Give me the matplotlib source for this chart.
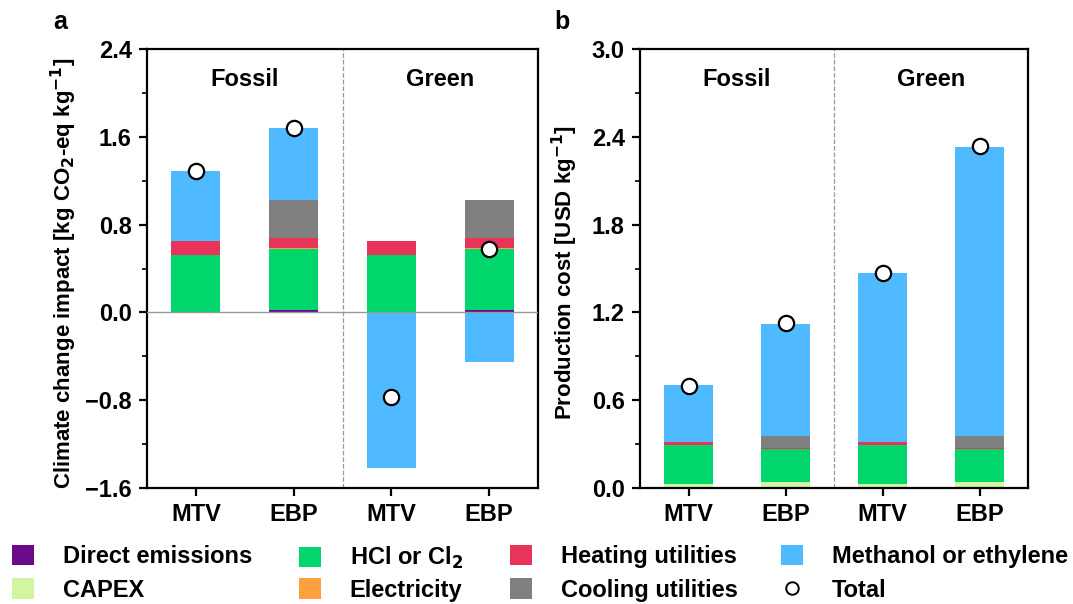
import matplotlib.pyplot as plt
import numpy as np
from matplotlib.lines import Line2D
from matplotlib.patches import Patch

plt.rcParams['font.family'] = ['Liberation Sans', 'DejaVu Sans']
plt.rcParams['font.weight'] = 'bold'
plt.rcParams['font.size'] = 17

W, H = 1073, 604

groups = ['Fossil', 'Green']
processes = ['MTV', 'EBP', 'MTV', 'EBP']

components = ['Direct emissions', 'CAPEX', 'HCl or Cl$_2$', 'Electricity',
              'Heating utilities', 'Cooling utilities', 'Methanol or ethylene']
colors = ['#6a0a8a', '#d2f5a0', '#00d66b', '#ffa040', '#e8335a', '#808080', '#4fbaff']

# panel a: climate change impact [kg CO2-eq/kg]
climate = {
    'Direct emissions': [0.0, 0.018, 0.0, 0.018],
    'CAPEX': [0.0, 0.0, 0.0, 0.0],
    'HCl or Cl$_2$': [0.523, 0.557, 0.523, 0.557],
    'Electricity': [0.0, 0.012, 0.0, 0.012],
    'Heating utilities': [0.127, 0.091, 0.127, 0.091],
    'Cooling utilities': [0.0, 0.346, 0.0, 0.346],
    'Methanol or ethylene': [0.64, 0.656, -1.417, -0.449],
}
climate_total = [1.29, 1.68, -0.77, 0.575]

# panel b: production cost [USD/kg]
cost = {
    'Direct emissions': [0.0, 0.0, 0.0, 0.0],
    'CAPEX': [0.025, 0.044, 0.025, 0.044],
    'HCl or Cl$_2$': [0.269, 0.223, 0.269, 0.223],
    'Electricity': [0.0, 0.0, 0.0, 0.0],
    'Heating utilities': [0.02, 0.008, 0.02, 0.008],
    'Cooling utilities': [0.0, 0.078, 0.0, 0.078],
    'Methanol or ethylene': [0.39, 0.767, 1.156, 1.977],
}
cost_total = [0.70, 1.13, 1.47, 2.34]


def stacked(ax, data, totals):
    x = np.arange(len(processes))
    pos = np.zeros(len(x))
    neg = np.zeros(len(x))
    for name, col in zip(components, colors):
        vals = np.array(data[name])
        bottom = np.where(vals >= 0, pos, neg)
        ax.bar(x, vals, 0.5, bottom=bottom, color=col, edgecolor='none', zorder=2)
        pos += np.where(vals >= 0, vals, 0)
        neg += np.where(vals < 0, vals, 0)
    ax.plot(x, totals, 'o', ms=11, mfc='white', mec='black', mew=1.6, zorder=4)
    ax.axvline(1.5, color='#999999', ls='--', lw=0.9, zorder=1)
    ax.set_xlim(-0.5, 3.5)
    ax.set_xticks(x)
    ax.set_xticklabels(processes)
    for sp in ax.spines.values():
        sp.set_linewidth(1.6)
    ax.tick_params(which='major', direction='out', length=6, width=1.6, labelsize=17, pad=5)
    ax.tick_params(which='minor', direction='out', length=3.5, width=1.2)
    ax.tick_params(axis='x', which='minor', bottom=False)


fig = plt.figure(figsize=(W / 100, H / 100), dpi=100)
ax1 = fig.add_axes([147 / W, 1 - 488 / H, 391 / W, 439 / H])
ax2 = fig.add_axes([640 / W, 1 - 488 / H, 388 / W, 439 / H])

stacked(ax1, climate, climate_total)
ax1.axhline(0, color='#999999', lw=1.0, zorder=3)
ax1.set_ylim(-1.6, 2.4)
ax1.set_yticks(np.arange(-1.6, 2.41, 0.8))
ax1.set_yticks(np.arange(-1.6, 2.41, 0.4), minor=True)
ax1.set_yticklabels(['\u22121.6', '\u22120.8', '0.0', '0.8', '1.6', '2.4'])
ax1.set_ylabel('Climate change impact [kg CO$_2$-eq kg$^{-1}$]', fontsize=16, fontweight='bold')
ax1.yaxis.set_label_coords(-0.174, 0.49)
for xi, g in zip([0.5, 2.5], groups):
    ax1.text(xi, 2.12, g, ha='center', va='center', fontsize=17, fontweight='bold')

stacked(ax2, cost, cost_total)
ax2.set_ylim(0, 3.0)
ax2.set_yticks(np.arange(0, 3.01, 0.6))
ax2.set_yticks(np.arange(0, 3.01, 0.3), minor=True)
ax2.set_yticklabels(['0.0', '0.6', '1.2', '1.8', '2.4', '3.0'])
ax2.set_ylabel('Production cost [USD kg$^{-1}$]', fontsize=16, fontweight='bold')
ax2.yaxis.set_label_coords(-0.155, 0.49)
for xi, g in zip([0.5, 2.5], groups):
    ax2.text(xi, 2.79, g, ha='center', va='center', fontsize=17, fontweight='bold')

fig.text(53 / W, 1 - 22 / H, 'a', fontsize=18, fontweight='bold', va='center')
fig.text(554 / W, 1 - 22 / H, 'b', fontsize=18, fontweight='bold', va='center')

# legend: four columns placed by hand
handles = {c: Patch(facecolor=col, edgecolor='none') for c, col in zip(components, colors)}
total_h = Line2D([], [], marker='o', ls='none', ms=9, mfc='white', mec='black', mew=1.4)
columns = [
    (12, ['Direct emissions', 'CAPEX'], 0.43),
    (299, ['HCl or Cl$_2$', 'Electricity'], 0.30),
    (510, ['Heating utilities', 'Cooling utilities'], 0.43),
    (781, ['Methanol or ethylene', 'Total'], 0.43),
]
for x0, labels, sp in columns:
    hs = [total_h if l == 'Total' else handles[l] for l in labels]
    fig.legend(hs, labels, loc='upper left', bbox_to_anchor=(x0 / W, 1 - 545 / H),
               frameon=False, fontsize=17, handlelength=0.95, handleheight=0.95,
               handletextpad=1.2, labelspacing=sp, borderaxespad=0, borderpad=0)

fig.savefig('out.png', dpi=100)
